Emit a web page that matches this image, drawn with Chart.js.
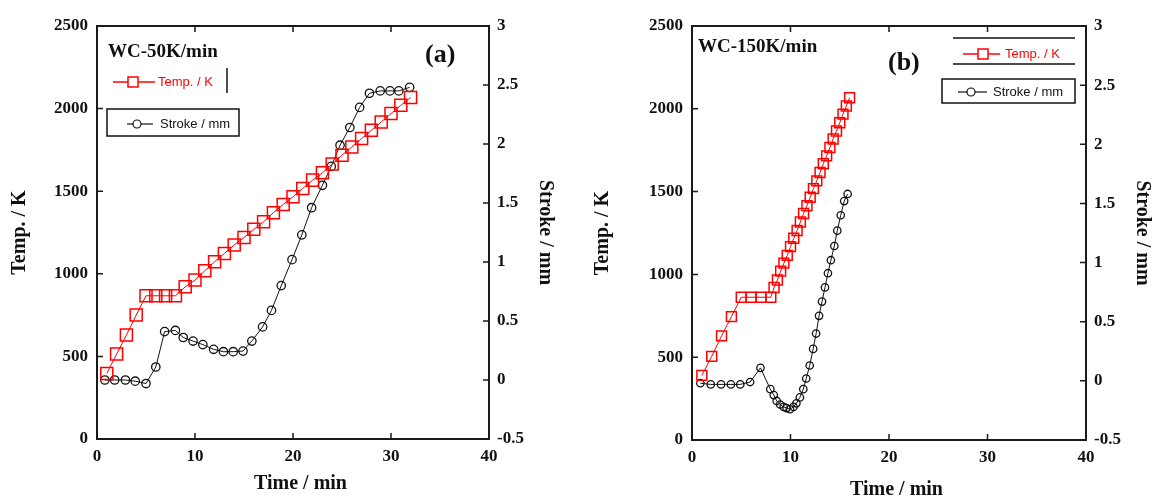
<!DOCTYPE html>
<html>
<head>
<meta charset="utf-8">
<script src="https://cdn.jsdelivr.net/npm/chart.js@4.4.0/dist/chart.umd.min.js"></script>
<style>
    body { margin: 0; background: #fff; width: 1152px; height: 500px; overflow: hidden; position: relative; }
    canvas { position: absolute; top: 0; }
    #chartA { left: 0; }
    #chartB { left: 576px; }
</style>
</head>
<body>
<canvas id="chartA" width="576" height="500"></canvas>
<canvas id="chartB" width="576" height="500"></canvas>
<script>
// (a) WC-50K/min
const timeTempA = [1, 2, 3, 4, 5, 6, 7, 8, 9, 10, 11, 12, 13, 14, 15, 16, 17, 18, 19, 20, 21, 22, 23, 24, 25, 26, 27, 28, 29, 30, 31, 32];
const tempA = [397, 514, 629, 750, 867, 867, 867, 867, 921, 962, 1018, 1073, 1123, 1174, 1220, 1269, 1315, 1370, 1420, 1466, 1517, 1567, 1611, 1664, 1718, 1768, 1819, 1869, 1919, 1970, 2020, 2067];
const timeStrokeA = [0.8, 1.8, 2.9, 3.9, 5.0, 6.0, 6.9, 8.0, 8.8, 9.8, 10.8, 11.9, 12.9, 13.9, 14.9, 15.8, 16.9, 17.8, 18.8, 19.9, 20.9, 21.9, 23.0, 23.9, 24.8, 25.8, 26.8, 27.8, 28.9, 29.9, 30.8, 31.9];
const strokeA = [0.0, 0.0, 0.0, -0.01, -0.03, 0.11, 0.41, 0.42, 0.36, 0.33, 0.30, 0.26, 0.24, 0.24, 0.245, 0.33, 0.45, 0.59, 0.80, 1.02, 1.23, 1.46, 1.65, 1.81, 1.99, 2.14, 2.31, 2.43, 2.45, 2.45, 2.45, 2.48];

// (b) WC-150K/min
const timeTempB = [1, 2, 3, 4, 5, 6, 7, 8, 8.33, 8.67, 9, 9.33, 9.67, 10, 10.33, 10.67, 11, 11.33, 11.67, 12, 12.33, 12.67, 13, 13.33, 13.67, 14, 14.33, 14.67, 15, 15.33, 15.67, 16];
const tempB = [390, 505, 629, 745, 862, 862, 862, 862, 921, 966, 1020, 1068, 1115, 1168, 1218, 1265, 1316, 1368, 1415, 1466, 1518, 1565, 1615, 1668, 1716, 1766, 1818, 1866, 1916, 1968, 2017, 2067];
const timeStrokeB = [0.85, 1.9, 2.95, 3.95, 4.9, 5.9, 6.95, 7.95, 8.3, 8.6, 8.95, 9.3, 9.6, 9.95, 10.3, 10.6, 10.95, 11.3, 11.6, 11.95, 12.3, 12.6, 12.9, 13.2, 13.5, 13.8, 14.1, 14.45, 14.75, 15.1, 15.45, 15.8];
const strokeB = [-0.02, -0.03, -0.03, -0.03, -0.03, -0.01, 0.11, -0.07, -0.12, -0.17, -0.2, -0.22, -0.23, -0.24, -0.22, -0.19, -0.14, -0.07, 0.02, 0.13, 0.27, 0.40, 0.55, 0.67, 0.79, 0.91, 1.02, 1.14, 1.27, 1.40, 1.52, 1.58];

const xTicks = [0, 10, 20, 30, 40];
const tempTicks = [0, 500, 1000, 1500, 2000, 2500];
const strokeTicks = [-0.5, 0, 0.5, 1, 1.5, 2, 2.5, 3];

const SERIF = '"Liberation Serif", "Times New Roman", serif';
const SANS = '"Liberation Sans", Arial, sans-serif';
const tickFont = {family: SERIF, size: 17, weight: 'bold'};
const titleFont = {family: SERIF, size: 20, weight: 'bold', lineHeight: 1};

function toPoints(xs, ys) {
    return xs.map((x, i) => ({x: x, y: ys[i]}));
}

// box frame plus inward tick marks
const frameTicks = {
    id: 'frameTicks',
    afterDraw(chart) {
        const {ctx, chartArea: a, scales} = chart;
        ctx.save();
        ctx.strokeStyle = '#1a1a1a';
        ctx.lineWidth = 2;
        ctx.strokeRect(a.left, a.top, a.right - a.left, a.bottom - a.top);
        ctx.lineWidth = 1.5;
        ctx.beginPath();
        xTicks.slice(1, -1).forEach(v => {
            const px = scales.x.getPixelForValue(v);
            ctx.moveTo(px, a.bottom); ctx.lineTo(px, a.bottom - 6);
            ctx.moveTo(px, a.top); ctx.lineTo(px, a.top + 6);
        });
        tempTicks.slice(1, -1).forEach(v => {
            const py = scales.y.getPixelForValue(v);
            ctx.moveTo(a.left, py); ctx.lineTo(a.left + 6, py);
        });
        strokeTicks.slice(1, -1).forEach(v => {
            const py = scales.y2.getPixelForValue(v);
            ctx.moveTo(a.right, py); ctx.lineTo(a.right - 6, py);
        });
        ctx.stroke();
        ctx.restore();
    }
};

// labels and the hand-drawn legend inside the plot
const annotate = {
    id: 'annotate',
    afterDraw(chart, args, o) {
        const ctx = chart.ctx;
        ctx.save();
        ctx.textBaseline = 'middle';
        ctx.textAlign = 'left';
        ctx.fillStyle = '#111';
        ctx.font = 'bold 19px ' + SERIF;
        ctx.fillText(o.name, o.nameX, o.nameY);
        ctx.font = 'bold 26px ' + SERIF;
        ctx.fillText(o.tag, o.tagX, o.tagY);

        // temperature entry
        const t = o.temp;
        ctx.strokeStyle = '#ff0000';
        ctx.lineWidth = 1.5;
        ctx.beginPath();
        ctx.moveTo(t.x1, t.y); ctx.lineTo(t.x2, t.y);
        ctx.stroke();
        ctx.fillStyle = '#fff';
        ctx.fillRect(t.mx - 5, t.y - 5, 10, 10);
        ctx.strokeRect(t.mx - 5, t.y - 5, 10, 10);
        ctx.fillStyle = '#ff0000';
        ctx.font = '13px ' + SANS;
        ctx.fillText('Temp. / K', t.tx, t.y);

        ctx.strokeStyle = '#111';
        ctx.lineWidth = 1.5;
        ctx.beginPath();
        (o.rules || []).forEach(r => { ctx.moveTo(r[0], r[1]); ctx.lineTo(r[2], r[3]); });
        ctx.stroke();

        // stroke entry in its box
        const s = o.stroke;
        ctx.strokeRect(s.bx, s.by, s.bw, s.bh);
        ctx.lineWidth = 1.2;
        ctx.beginPath();
        ctx.moveTo(s.x1, s.y); ctx.lineTo(s.x2, s.y);
        ctx.stroke();
        ctx.fillStyle = '#fff';
        ctx.beginPath();
        ctx.arc(s.mx, s.y, 4, 0, Math.PI * 2);
        ctx.fill(); ctx.stroke();
        ctx.fillStyle = '#111';
        ctx.font = '13px ' + SANS;
        ctx.fillText('Stroke / mm', s.tx, s.y);
        ctx.restore();
    }
};

const plain = v => String(v);

function makeChart(id, tempPts, strokePts, L, note) {
    const ctx = document.getElementById(id).getContext('2d');
    return new Chart(ctx, {
        type: 'line',
        data: {
            datasets: [{
                label: 'Temp. / K',
                data: tempPts,
                yAxisID: 'y',
                borderColor: '#ff0000',
                borderWidth: 1,
                pointStyle: 'rect',
                pointRadius: L.sqR,
                pointBorderWidth: 1.5,
                pointBorderColor: '#ff0000',
                pointBackgroundColor: 'rgba(0,0,0,0)',
                tension: 0
            }, {
                label: 'Stroke / mm',
                data: strokePts,
                yAxisID: 'y2',
                borderColor: '#111',
                borderWidth: 1,
                pointStyle: 'circle',
                pointRadius: L.ciR,
                pointBorderWidth: 1.3,
                pointBorderColor: '#111',
                pointBackgroundColor: 'rgba(0,0,0,0)',
                tension: 0
            }]
        },
        options: {
            responsive: false,
            animation: false,
            devicePixelRatio: 1,
            layout: {padding: {top: 26, bottom: 0, left: 0, right: 0}},
            plugins: {
                legend: {display: false},
                tooltip: {enabled: false},
                annotate: note
            },
            scales: {
                x: {
                    type: 'linear', min: 0, max: 40,
                    afterBuildTicks: s => { s.ticks = xTicks.map(v => ({value: v})); },
                    ticks: {padding: 7, font: tickFont, color: '#111', maxRotation: 0, callback: plain},
                    grid: {display: false, drawTicks: false},
                    border: {display: false},
                    title: {display: true, text: '   Time / min', font: titleFont, color: '#111', padding: {top: 0, bottom: L.xTitlePad}},
                    afterFit: s => { s.height = L.xHeight; }
                },
                y: {
                    position: 'left', min: 0, max: 2500,
                    afterBuildTicks: s => { s.ticks = tempTicks.map(v => ({value: v})); },
                    ticks: {padding: 9, font: tickFont, color: '#111', callback: plain},
                    grid: {display: false, drawTicks: false},
                    border: {display: false},
                    title: {display: true, text: 'Temp. / K', font: titleFont, color: '#111', padding: {top: L.yTitlePad, bottom: 0}},
                    afterFit: s => { s.width = L.yWidth; }
                },
                y2: {
                    position: 'right', min: -0.5, max: 3,
                    afterBuildTicks: s => { s.ticks = strokeTicks.map(v => ({value: v})); },
                    ticks: {padding: 8, font: tickFont, color: '#111', callback: plain},
                    grid: {display: false, drawTicks: false},
                    border: {display: false},
                    title: {display: true, text: 'Stroke / mm', font: titleFont, color: '#111', padding: {top: L.y2TitlePad, bottom: 0}},
                    afterFit: s => { s.width = L.y2Width; }
                }
            }
        },
        plugins: [frameTicks, annotate]
    });
}

makeChart('chartA', toPoints(timeTempA, tempA), toPoints(timeStrokeA, strokeA),
    {sqR: 8.5, ciR: 4.2, xHeight: 61, yWidth: 97, y2Width: 87, xTitlePad: 6, yTitlePad: 10, y2TitlePad: 21},
    {
        name: 'WC-50K/min', nameX: 108, nameY: 52, tag: '(a)', tagX: 425, tagY: 55,
        temp: {x1: 113, x2: 155, mx: 133, y: 82, tx: 158},
        rules: [[227, 68, 227, 93]],
        stroke: {bx: 107, by: 109, bw: 132, bh: 27, x1: 127, x2: 153, mx: 137, y: 124, tx: 160}
    });

makeChart('chartB', toPoints(timeTempB, tempB), toPoints(timeStrokeB, strokeB),
    {sqR: 7, ciR: 3.7, xHeight: 60, yWidth: 116, y2Width: 66, xTitlePad: 0, yTitlePad: 17, y2TitlePad: 0},
    {
        name: 'WC-150K/min', nameX: 122, nameY: 47, tag: '(b)', tagX: 312, tagY: 63,
        temp: {x1: 387, x2: 424, mx: 407, y: 54, tx: 429},
        rules: [[377, 38, 499, 38], [377, 64, 499, 64]],
        stroke: {bx: 366, by: 79, bw: 133, bh: 24, x1: 382, x2: 411, mx: 395, y: 92, tx: 417}
    });
</script>
</body>
</html>
